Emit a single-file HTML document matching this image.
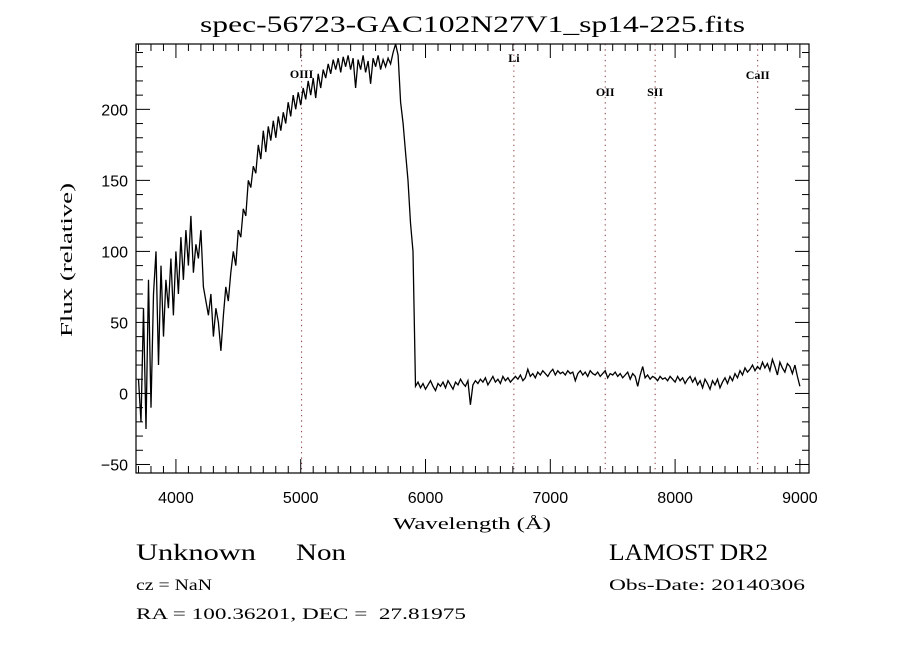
<!DOCTYPE html>
<html><head><meta charset="utf-8"><style>
html,body{margin:0;padding:0;background:#fff;}
svg{display:block;}
text{font-family:"Liberation Serif",serif;fill:#000;}
.tk{font-family:"Liberation Sans",sans-serif;font-size:16px;}
</style></head><body>
<svg id="chart" width="900" height="650" viewBox="0 0 900 650">
<rect width="900" height="650" fill="#fff"/>
<text x="200" y="32" font-size="23" textLength="545" lengthAdjust="spacingAndGlyphs">spec-56723-GAC102N27V1_sp14-225.fits</text>
<g id="lines"></g>
<g id="ticks"></g>
<g id="series"></g>
<rect x="136" y="44" width="673" height="429" fill="none" stroke="#000" stroke-width="1.2"/>
<text x="393" y="529" font-size="17" textLength="158" lengthAdjust="spacingAndGlyphs">Wavelength (Å)</text>
<text transform="translate(72,337) rotate(-90)" font-size="17" textLength="154" lengthAdjust="spacingAndGlyphs">Flux (relative)</text>
<text x="136" y="560" font-size="23" textLength="120" lengthAdjust="spacingAndGlyphs">Unknown</text>
<text x="296" y="560" font-size="23" textLength="50" lengthAdjust="spacingAndGlyphs">Non</text>
<text x="136" y="590" font-size="16" textLength="76" lengthAdjust="spacingAndGlyphs">cz = NaN</text>
<text x="136" y="619" font-size="16" textLength="330" lengthAdjust="spacingAndGlyphs" xml:space="preserve">RA = 100.36201, DEC =  27.81975</text>
<text x="609" y="560" font-size="23" textLength="159" lengthAdjust="spacingAndGlyphs">LAMOST DR2</text>
<text x="609" y="590" font-size="16" textLength="196" lengthAdjust="spacingAndGlyphs">Obs-Date: 20140306</text>
</svg>
<script>
const fluxStart = 3700;
const fluxStep = 20;
const flux = [
10,-20,60,-25,80,-10,70,100,20,90,
40,80,60,95,55,100,70,110,80,115,
90,125,85,105,95,115,75,65,55,70,
40,60,50,30,55,75,65,85,100,90,
115,110,130,125,150,145,160,155,175,165,
185,170,188,178,192,180,195,185,198,190,
205,195,210,200,212,203,215,207,220,210,
222,208,225,215,228,222,232,225,235,228,
236,226,237,230,238,228,236,215,235,228,
238,226,234,218,236,230,238,228,235,230,
236,232,240,250,238,205,190,170,150,120,
100,5,
8,4,7,3,6,9,5,2,7,5,8,4,9,6,3,8,6,10,7,
5,9,-8,6,9,7,10,8,11,6,9,12,8,10,7,12,9,11,8,10,
12,10,13,9,11,17,12,14,11,15,13,16,14,12,15,17,13,16,14,15,
13,16,14,15,9,14,16,13,15,12,16,14,13,15,12,14,16,11,14,13,
15,12,14,11,13,15,10,14,12,5,13,19,11,13,10,12,11,9,12,10,
11,9,12,10,8,12,9,11,7,10,12,8,11,6,9,4,10,7,3,9,
6,10,4,8,11,7,12,9,14,11,16,13,18,15,17,20,16,19,17,22,
18,21,16,24,19,13,22,18,15,21,19,14,20,12,5
];
const xTicks = [4000,5000,6000,7000,8000,9000];
const yTicks = [-50,0,50,100,150,200];
const lineNames = ["OIII","Li","OII","SII","CaII"];
const lineWaves = [5007,6708,7440,7840,8662];
const lineLabelY = [78,62,96,96,79];

const X0=136,X1=809,Y0=44,Y1=473;
const WMIN=3680,WMAX=9073,FMIN=-56,FMAX=246;
const sx=w=>X0+(w-WMIN)/(WMAX-WMIN)*(X1-X0);
const sy=f=>Y1-(f-FMIN)/(FMAX-FMIN)*(Y1-Y0);
const NS="http://www.w3.org/2000/svg";
function mk(tag,attrs,parent){const e=document.createElementNS(NS,tag);for(const k in attrs)e.setAttribute(k,attrs[k]);parent.appendChild(e);return e;}

const tg=document.getElementById('ticks');
for(let w=3700;w<=9000;w+=100){
  const maj=w%1000===0, L=maj?14:7, x=sx(w);
  const t1=mk('line',{x1:x,x2:x,y1:Y1,y2:Y1-L,stroke:'#000','stroke-width':1},tg);
  
  
  const t2=mk('line',{x1:x,x2:x,y1:Y0,y2:Y0+L,stroke:'#000','stroke-width':1},tg);
  
  
}
for(let f=-50;f<=240;f+=10){
  const maj=f%50===0, L=maj?14:7, y=sy(f);
  const t1=mk('line',{x1:X0,x2:X0+L,y1:y,y2:y,stroke:'#000','stroke-width':1},tg);
  
  
  const t2=mk('line',{x1:X1,x2:X1-L,y1:y,y2:y,stroke:'#000','stroke-width':1},tg);
  
  
}
xTicks.forEach(w=>{
  const t=mk('text',{x:sx(w),y:503,'text-anchor':'middle',class:'tk'},tg);
  t.textContent=w;
  
  
});
yTicks.forEach(f=>{
  const t=mk('text',{x:128,y:sy(f)+6,'text-anchor':'end',class:'tk'},tg);
  t.textContent=f<0?'\u2212'+(-f):String(f);
  
  
});

const lg=document.getElementById('lines');
lineNames.forEach((n,i)=>{
  const x=sx(lineWaves[i]);
  const l=mk('line',{x1:x,x2:x,y1:Y0,y2:Y1,stroke:'#8b3a3a','stroke-width':1,'stroke-dasharray':'1.3,4'},lg);
  
  
  const t=mk('text',{x:x,y:lineLabelY[i],'text-anchor':'middle','font-size':12,'font-weight':'bold'},lg);
  t.textContent=n;
  
  
});

const sg=document.getElementById('series');
const pts=flux.map((f,i)=>{const ff=Math.max(FMIN,Math.min(FMAX,f));return sx(fluxStart+i*fluxStep).toFixed(1)+','+sy(ff).toFixed(1);}).join(' ');
const pl=mk('polyline',{points:pts,fill:'none',stroke:'#000','stroke-width':1.3,'stroke-linejoin':'miter'},sg);


</script>
</body></html>
